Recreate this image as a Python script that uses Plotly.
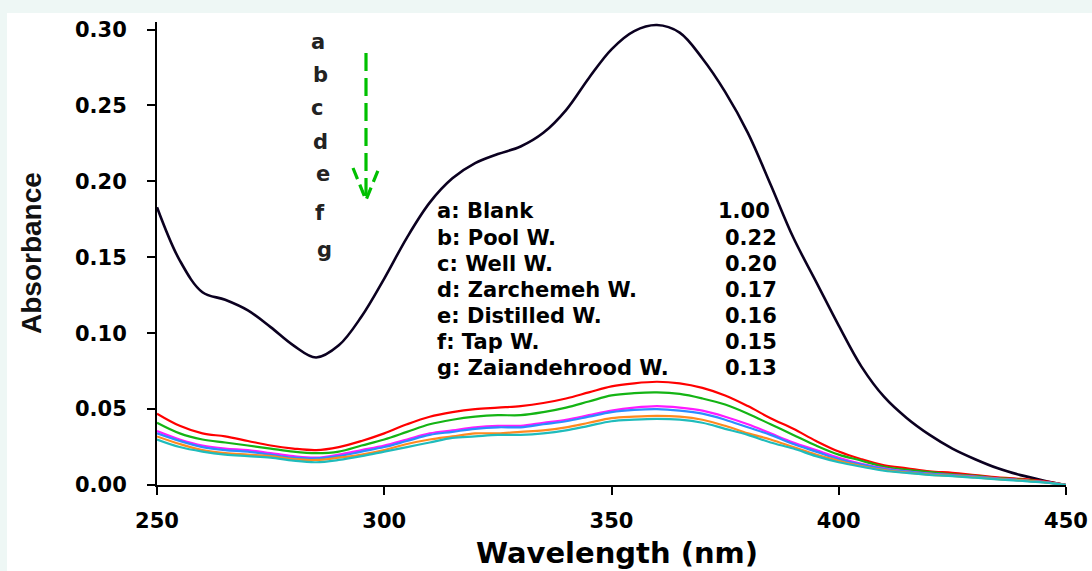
import plotly.graph_objects as go

# ---------------- data ----------------
wavelength = [250, 255, 260, 265, 270, 275, 280, 285, 290, 295, 300, 305, 310, 315, 320,
              325, 330, 335, 340, 345, 350, 355, 360, 365, 370, 375, 380, 385, 390, 395,
              400, 405, 410, 415, 420, 425, 430, 435, 440, 445, 450]

abs_a_blank = [0.183, 0.148, 0.127, 0.122, 0.115, 0.104, 0.092, 0.084, 0.092, 0.111, 0.136,
               0.163, 0.186, 0.202, 0.212, 0.218, 0.223, 0.232, 0.247, 0.268, 0.287, 0.299,
               0.303, 0.298, 0.281, 0.259, 0.232, 0.198, 0.163, 0.134, 0.105, 0.078, 0.058,
               0.044, 0.033, 0.024, 0.017, 0.011, 0.0065, 0.003, 0.000]
abs_b_pool = [0.047, 0.039, 0.034, 0.032, 0.029, 0.026, 0.024, 0.023, 0.025, 0.029, 0.034,
              0.040, 0.045, 0.048, 0.050, 0.051, 0.052, 0.054, 0.057, 0.061, 0.065, 0.067,
              0.068, 0.067, 0.064, 0.059, 0.052, 0.044, 0.037, 0.029, 0.022, 0.017, 0.013,
              0.011, 0.009, 0.008, 0.0065, 0.005, 0.004, 0.0025, 0.000]
abs_c_well = [0.041, 0.034, 0.030, 0.028, 0.026, 0.024, 0.022, 0.021, 0.022, 0.026, 0.030,
              0.035, 0.040, 0.043, 0.045, 0.046, 0.046, 0.048, 0.051, 0.055, 0.059, 0.0605,
              0.061, 0.060, 0.057, 0.053, 0.047, 0.040, 0.033, 0.026, 0.020, 0.016, 0.012,
              0.010, 0.0085, 0.007, 0.006, 0.0045, 0.0035, 0.002, 0.000]
abs_d_zarchemeh = [0.0355, 0.030, 0.026, 0.024, 0.023, 0.021, 0.019, 0.018, 0.020, 0.023, 0.026,
                   0.030, 0.034, 0.036, 0.038, 0.039, 0.039, 0.041, 0.043, 0.046, 0.049, 0.051,
                   0.052, 0.051, 0.049, 0.045, 0.040, 0.034, 0.028, 0.023, 0.018, 0.014, 0.011,
                   0.009, 0.0075, 0.0065, 0.0055, 0.0042, 0.0032, 0.002, 0.000]
abs_e_distilled = [0.034, 0.029, 0.025, 0.023, 0.022, 0.020, 0.018, 0.0175, 0.019, 0.022, 0.025,
                   0.029, 0.033, 0.035, 0.037, 0.038, 0.038, 0.040, 0.042, 0.045, 0.048, 0.0495,
                   0.050, 0.049, 0.047, 0.043, 0.038, 0.033, 0.027, 0.022, 0.017, 0.0135, 0.0105,
                   0.0088, 0.0073, 0.0063, 0.0053, 0.0041, 0.0031, 0.0019, 0.000]
abs_f_tap = [0.032, 0.027, 0.023, 0.021, 0.020, 0.019, 0.017, 0.0165, 0.018, 0.020, 0.023,
             0.027, 0.030, 0.032, 0.034, 0.034, 0.035, 0.036, 0.038, 0.041, 0.044, 0.045,
             0.0455, 0.045, 0.043, 0.039, 0.034, 0.030, 0.025, 0.020, 0.016, 0.0125, 0.0098,
             0.0082, 0.0069, 0.006, 0.005, 0.0039, 0.003, 0.0018, 0.000]
abs_g_zaiandehrood = [0.030, 0.025, 0.022, 0.020, 0.019, 0.018, 0.016, 0.015, 0.0165, 0.019, 0.022,
                      0.025, 0.028, 0.031, 0.032, 0.033, 0.033, 0.034, 0.036, 0.039, 0.042, 0.043,
                      0.0435, 0.043, 0.041, 0.037, 0.033, 0.028, 0.024, 0.019, 0.015, 0.012, 0.0094,
                      0.0079, 0.0066, 0.0058, 0.0048, 0.0037, 0.0028, 0.0017, 0.000]

series_names = ["a: Blank", "b: Pool W.", "c: Well W.", "d: Zarchemeh W.",
                "e: Distilled W.", "f: Tap W.", "g: Zaiandehrood W."]
series_values = ["1.00", "0.22", "0.20", "0.17", "0.16", "0.15", "0.13"]
series_letters = ["a", "b", "c", "d", "e", "f", "g"]
series_colors = ["#0b0020", "#ff0000", "#14b414", "#ff1aff", "#2a8cff", "#ff8a1f", "#1fbcbc"]
series_widths = [2.6, 2.2, 2.2, 2.2, 2.2, 2.2, 2.2]
all_series = [abs_a_blank, abs_b_pool, abs_c_well, abs_d_zarchemeh,
              abs_e_distilled, abs_f_tap, abs_g_zaiandehrood]

x_ticks = [250, 300, 350, 400, 450]
y_ticks = [0.00, 0.05, 0.10, 0.15, 0.20, 0.25, 0.30]

# ---------------- layout geometry ----------------
W, H = 1092, 571
L, R, T, B = 157, 26, 22, 86
XR = [250, 450]
YR = [0, 0.305]
pw, ph = W - L - R, H - T - B


def px2x(px):
    return XR[0] + (px - L) / pw * (XR[1] - XR[0])


def py2y(py):
    return YR[0] + (H - B - py) / ph * (YR[1] - YR[0])


def px2paper(px):
    return (px - L) / pw


def py2paper(py):
    return (H - B - py) / ph


TXT = dict(family="DejaVu Sans, Liberation Sans, Arial", color="#000000")

fig = go.Figure()
for name, ys, col, lw in zip(series_names, all_series, series_colors, series_widths):
    fig.add_trace(go.Scatter(x=wavelength, y=ys, mode="lines", name=name,
                             line=dict(color=col, width=lw, shape="spline", smoothing=1.0),
                             cliponaxis=False, showlegend=False))

annotations = []
# legend block (names + values)
name_rows = [211, 238, 264, 290, 316, 342, 368]
value_right = [772, 779, 779, 779, 779, 779, 779]
for nm, val, py, vr in zip(series_names, series_values, name_rows, value_right):
    annotations.append(dict(x=px2x(435), y=py2y(py), xref="x", yref="y", text=nm,
                            showarrow=False, xanchor="left", yanchor="middle",
                            font=dict(size=21, weight="bold", **TXT)))
    annotations.append(dict(x=px2x(vr), y=py2y(py), xref="x", yref="y", text=val,
                            showarrow=False, xanchor="right", yanchor="middle",
                            font=dict(size=21, weight="bold", **TXT)))

# letters a..g
letter_pos = [(318, 42), (320, 75), (317, 108), (320, 142), (323, 174), (320, 213), (324, 250)]
for lt, (lx, ly) in zip(series_letters, letter_pos):
    annotations.append(dict(x=px2x(lx), y=py2y(ly), xref="x", yref="y", text=lt,
                            showarrow=False, xanchor="center", yanchor="middle",
                            font=dict(size=21, weight="bold", family=TXT["family"], color="#222222")))

# axis titles
annotations.append(dict(x=px2paper(31), y=py2paper(253), xref="paper", yref="paper",
                        text="Absorbance", textangle=-90, showarrow=False,
                        xanchor="center", yanchor="middle",
                        font=dict(size=28, weight="bold", color="#111111",
                                  family="Liberation Sans Narrow, Arial Narrow, Liberation Sans")))
annotations.append(dict(x=px2paper(617), y=py2paper(553), xref="paper", yref="paper",
                        text="Wavelength (nm)", showarrow=False,
                        xanchor="center", yanchor="middle",
                        font=dict(size=29, weight="bold", **TXT)))

shapes = [
    # white panel
    dict(type="rect", xref="paper", yref="paper", layer="below",
         x0=px2paper(7), x1=px2paper(W + 5), y0=py2paper(H + 5), y1=py2paper(13),
         fillcolor="#ffffff", line=dict(width=0)),
    # green dashed arrow shaft
    dict(type="line", xref="x", yref="y", x0=px2x(366), x1=px2x(366),
         y0=py2y(53), y1=py2y(196),
         line=dict(color="#00c000", width=3.2, dash="18px,7px")),
    # arrow head wings
    dict(type="path", xref="x", yref="y",
         path="M %f,%f L %f,%f L %f,%f" % (px2x(353), py2y(168), px2x(366), py2y(200),
                                          px2x(379), py2y(168)),
         line=dict(color="#00c000", width=3.2, dash="12px,6px")),
]

fig.update_layout(
    width=W, height=H, autosize=False,
    margin=dict(l=L, r=R, t=T, b=B, pad=0, autoexpand=False),
    paper_bgcolor="#eef7f5",
    plot_bgcolor="rgba(0,0,0,0)",
    showlegend=False,
    annotations=annotations,
    shapes=shapes,
    xaxis=dict(range=XR, tickvals=x_ticks, ticktext=[str(v) for v in x_ticks],
               automargin=False,
               showgrid=False, zeroline=False, showline=True, linecolor="#000000", linewidth=2,
               ticks="outside", ticklen=8, tickwidth=2, tickcolor="#000000",
               ticklabelstandoff=8,
               tickfont=dict(size=21, weight="bold", **TXT)),
    yaxis=dict(range=YR, tickvals=y_ticks, ticktext=["%.2f" % v for v in y_ticks],
               automargin=False,
               showgrid=False, zeroline=False, showline=True, linecolor="#000000", linewidth=2,
               ticks="outside", ticklen=8, tickwidth=2, tickcolor="#000000",
               ticklabelstandoff=16,
               tickfont=dict(size=21, weight="bold", **TXT)),
)

fig.write_html("out.html")
